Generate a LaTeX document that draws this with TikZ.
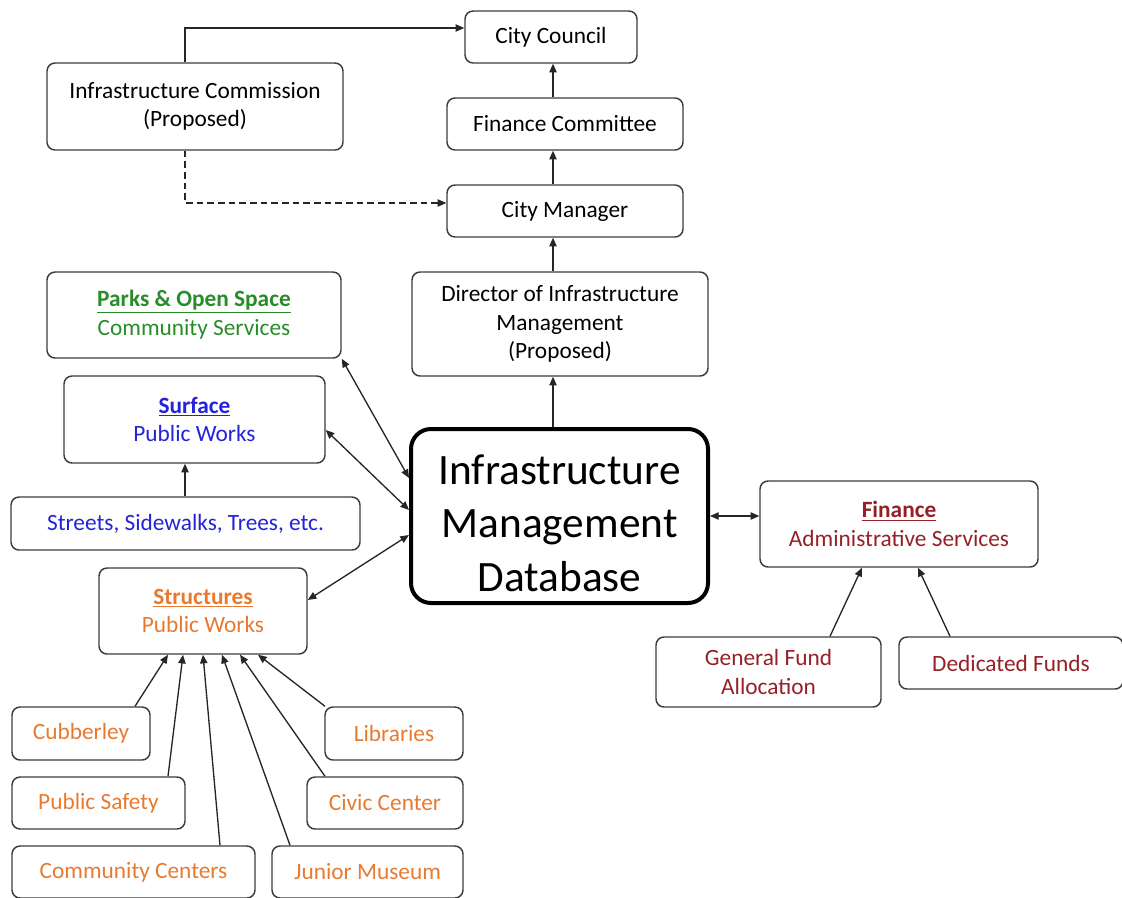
\documentclass[tikz,border=0pt]{standalone}
\usepackage{fontspec}
\setmainfont{Carlito}
\usetikzlibrary{arrows.meta,calc}
\definecolor{cgreen}{RGB}{40,140,40}
\definecolor{cblue}{RGB}{35,35,215}
\definecolor{corange}{RGB}{232,122,48}
\definecolor{cred}{RGB}{150,32,40}
\definecolor{cline}{RGB}{60,60,60}
\tikzset{
  box/.style={draw=cline,line width=1.1pt,rounded corners=6pt,align=center,inner sep=0pt,
    font=\fontsize{17.5}{21.5}\selectfont},
  dbbox/.style={draw=black,line width=3pt,rounded corners=15pt,align=center,inner sep=0pt,
    font=\fontsize{32.5}{40}\selectfont},
  arr/.style={draw=black!85,line width=1pt,-{Triangle[length=6.5pt,width=5.5pt]}},
  darr/.style={draw=black!85,line width=1pt,{Triangle[length=6.5pt,width=5.5pt]}-{Triangle[length=6.5pt,width=5.5pt]}},
}
\newcommand\bx[7][]{%
  \node[box,#1,minimum width={(#5-#3)*0.75pt},minimum height={(#6-#4)*0.75pt}] (#2) at ({(#3+#5)/2},{(#4+#6)/2}) {#7};}
\begin{document}
\begin{tikzpicture}[x=0.75pt,y=-0.75pt]
\useasboundingbox (0,0) rectangle (1122,897);
% nodes
\bx{council}{465}{11}{637}{63}{City Council}
\bx{ic}{47}{63}{343}{150}{Infrastructure Commission\\(Proposed)}
\bx{fc}{447}{98}{683}{150}{Finance Committee}
\bx{cm}{447}{185}{683}{237}{City Manager}
\bx{dir}{412}{272}{708}{376}{Director of Infrastructure\\Management\\(Proposed)}
\bx[text=cgreen]{parks}{47}{272}{341}{358}{\textbf{\underline{Parks \& Open Space}}\\Community Services}
\bx[text=cblue]{surface}{64}{376}{325}{463}{\textbf{\underline{Surface}}\\Public Works}
\bx[text=cblue]{streets}{11}{497}{360}{550}{Streets, Sidewalks, Trees, etc.}
\bx[text=corange]{struct}{99}{568}{307}{654}{\textbf{\underline{Structures}}\\Public Works}
\node[dbbox,minimum width={297*0.75pt},minimum height={174*0.75pt}] (db) at (559.5,516) {};
\node[font=\fontsize{32.5}{40}\selectfont,align=center,inner sep=0pt] (dbtext) at (559.5,523) {Infrastructure\\Management\\Database};
\bx[text=cred]{fin}{760}{481}{1038}{567}{\textbf{\underline{Finance}}\\Administrative Services}
\bx[text=cred]{gfa}{656}{637}{881}{707}{General Fund\\Allocation}
\bx[text=cred]{ded}{899}{637}{1123}{689}{Dedicated Funds}
\bx[text=corange]{cub}{12}{707}{150}{760}{Cubberley}
\bx[text=corange]{ps}{12}{777}{185}{829}{Public Safety}
\bx[text=corange]{cc}{12}{846}{255}{898}{Community Centers}
\bx[text=corange]{lib}{325}{707}{463}{760}{Libraries}
\bx[text=corange]{civ}{307}{777}{463}{829}{Civic Center}
\bx[text=corange]{jm}{272}{846}{463}{898}{Junior Museum}
% connectors
\draw[arr] (ic.north -| 185,0) |- (council.west |- 0,28);
\draw[arr,dashed,dash pattern=on 5pt off 3pt] (ic.south -| 185,0) |- (cm.west |- 0,203);
\draw[arr] (fc.north -| 553,0) -- (council.south -| 553,0);
\draw[arr] (cm.north -| 553,0) -- (fc.south -| 553,0);
\draw[arr] (dir.north -| 553,0) -- (cm.south -| 553,0);
\draw[arr] (db.north -| 553,0) -- (dir.south -| 553,0);
\draw[darr] (parks.south east) -- (db.west |- 0,478);
\draw[darr] (surface.east |- 0,430) -- (db.west |- 0,510);
\draw[arr] (streets.north -| 185,0) -- (surface.south -| 185,0);
\draw[darr] (struct.east |- 0,600) -- (db.west |- 0,535);
\draw[darr] (db.east) -- (fin.west |- db.east);
\draw[arr] (gfa.north -| 830,0) -- (fin.south -| 862,0);
\draw[arr] (ded.north -| 950,0) -- (fin.south -| 918,0);
\draw[arr] (cub.north -| 135,0) -- (struct.south -| 168,0);
\draw[arr] (ps.north -| 168,0) -- (struct.south -| 183,0);
\draw[arr] (cc.north -| 220,0) -- (struct.south -| 203,0);
\draw[arr] (jm.north -| 290,0) -- (struct.south -| 222,0);
\draw[arr] (civ.north -| 325,0) -- (struct.south -| 240,0);
\draw[arr] (lib.north -| 325,0) -- (struct.south -| 258,0);
\end{tikzpicture}
\end{document}
